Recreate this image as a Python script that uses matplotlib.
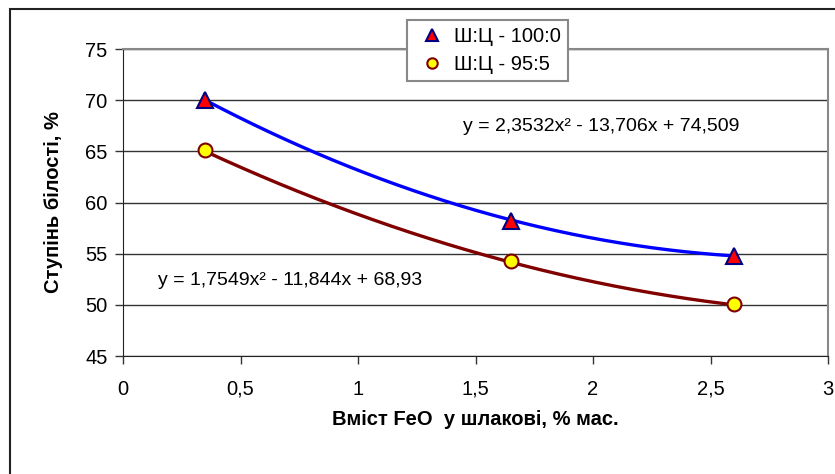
import numpy as np
import matplotlib
matplotlib.use('Agg')
import matplotlib.pyplot as plt
from matplotlib.patches import Rectangle

plt.rcParams['font.family'] = ['Liberation Sans', 'DejaVu Sans']

# data
feo = [0.35, 1.65, 2.6]
white_100 = [70.0, 58.2, 54.8]
white_95 = [65.1, 54.3, 50.1]
labels = ['Ш:Ц - 100:0', 'Ш:Ц - 95:5']
# trendline coefficients as printed on the chart (a, b, c)
coef_100 = [2.3532, -13.706, 74.509]
coef_95 = [1.7549, -11.844, 68.93]
eq_100 = 'y = 2,3532x² - 13,706x + 74,509'
eq_95 = 'y = 1,7549x² - 11,844x + 68,93'

W, H = 835, 474
fig = plt.figure(figsize=(W / 100, H / 100), dpi=100)

# outer chart border (Excel chart area)
fig.patches.append(Rectangle((10 / W, -0.1), 1.2, 1 - 9 / H + 0.1, transform=fig.transFigure,
                             fill=False, edgecolor='#222222', linewidth=1.5))

ax = fig.add_axes([123 / W, (H - 356) / H, (828 - 123) / W, (356 - 49) / H])

xs = np.linspace(feo[0], feo[-1], 200)
ax.plot(xs, np.polyval(coef_100, xs), color='#0000FF', lw=2.4, zorder=3)
ax.plot(xs, np.polyval(coef_95, xs), color='#800000', lw=2.4, zorder=3)

ax.plot(feo, white_100, ls='none', marker='^', ms=11, mfc='#FF0000', mec='#000080', mew=1.5,
        label=labels[0], zorder=4, clip_on=False)
ax.plot(feo, white_95, ls='none', marker='o', ms=10, mfc='#FFFF00', mec='#800000', mew=1.5,
        label=labels[1], zorder=4, clip_on=False)

ax.set_xlim(0, 3)
ax.set_ylim(45, 75)
ax.set_xticks(np.arange(0, 3.01, 0.5))
ax.set_yticks(np.arange(45, 75.1, 5))
ax.set_xticklabels(['0', '0,5', '1', '1,5', '2', '2,5', '3'])
ax.yaxis.grid(True, color='#333333', lw=1)
ax.set_axisbelow(True)
ax.tick_params(direction='out', length=6, width=1, labelsize=14.5, color='#333333', pad=11)
ax.tick_params(axis='y', pad=5)
for s in ['top', 'right']:
    ax.spines[s].set_color('#888888')
    ax.spines[s].set_linewidth(1.5)
for s in ['left', 'bottom']:
    ax.spines[s].set_color('#222222')

ax.text(1.447, 67.4, eq_100, fontsize=14, va='center', ha='left')
ax.text(0.149, 52.4, eq_95, fontsize=14, va='center', ha='left')

ax.set_xlabel('Вміст FeO  у шлакові, % мас.', fontsize=14.5, fontweight='bold', labelpad=8)
ax.set_ylabel('Ступінь білості, %', fontsize=14.5, fontweight='bold', labelpad=16)

leg = ax.legend(loc='upper left', bbox_to_anchor=(407 / W, 1 - 20 / H), bbox_transform=fig.transFigure,
                fontsize=14.5, frameon=True, fancybox=False, edgecolor='#888888', framealpha=1,
                borderaxespad=0, handletextpad=0.2, labelspacing=0.45, borderpad=0.35,
                handlelength=1.8, markerscale=0.75)
leg.get_frame().set_linewidth(1.5)
leg.set_zorder(10)

fig.savefig('out.png', dpi=100)
